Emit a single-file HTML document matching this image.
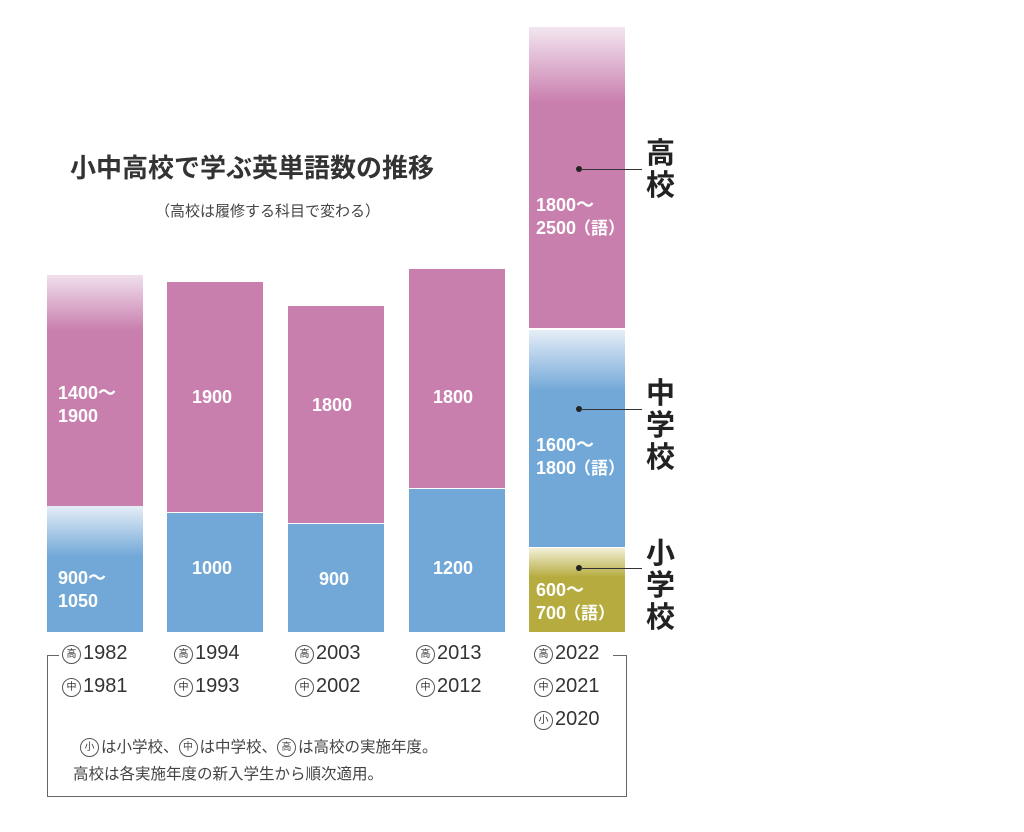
<!DOCTYPE html>
<html><head><meta charset="utf-8"><style>
body{margin:0;width:1024px;height:832px;background:#fff;position:relative;overflow:hidden;font-family:"Liberation Sans","Noto Sans CJK JP",sans-serif;color:#333}
.a{position:absolute}
.bar{position:absolute;width:96px}
.v{position:absolute;color:#fff;font-weight:bold;font-size:18px;line-height:23px;white-space:nowrap}
.y{position:absolute;font-size:20px;white-space:nowrap;color:#333}
.c{display:inline-block;width:17px;height:17px;border:1px solid #555;border-radius:50%;font-size:10px;line-height:17px;text-align:center;vertical-align:2px;margin-right:2px}
.lab{position:absolute;font-size:29px;font-weight:bold;line-height:32px;color:#222;left:646px;width:32px}
.dot{position:absolute;width:6px;height:6px;border-radius:50%;background:#222}
.ln{position:absolute;height:1px;background:#333}
.p{font-size:17px;margin-left:-2px}
</style></head><body>
<div class="a" style="left:70px;top:148px;font-size:26px;font-weight:bold;color:#333">小中高校で学ぶ英単語数の推移</div>
<div class="a" style="left:155px;top:200px;font-size:15px;color:#444">（高校は履修する科目で変わる）</div>

<div class="bar" style="left:47px;top:275px;height:231px;background:linear-gradient(#f0e0ec,#c97fae 24%,#c97fae)"></div>
<div class="bar" style="left:47px;top:506px;height:126px;background:linear-gradient(#e6eef7,#72a8d8 40%,#72a8d8)"></div>
<div class="bar" style="left:167px;top:282px;height:230px;background:#c97fae"></div>
<div class="bar" style="left:167px;top:513px;height:119px;background:#72a8d8"></div>
<div class="bar" style="left:288px;top:306px;height:217px;background:#c97fae"></div>
<div class="bar" style="left:288px;top:524px;height:108px;background:#72a8d8"></div>
<div class="bar" style="left:409px;top:269px;height:219px;background:#c97fae"></div>
<div class="bar" style="left:409px;top:489px;height:143px;background:#72a8d8"></div>
<div class="bar" style="left:529px;top:27px;height:301px;background:linear-gradient(#f3e6f0,#c97fae 25%,#c97fae)"></div>
<div class="bar" style="left:529px;top:330px;height:217px;background:linear-gradient(#e6eef7,#72a8d8 28%,#72a8d8)"></div>
<div class="bar" style="left:529px;top:548px;height:84px;background:linear-gradient(#f3f0d8,#b5ab3e 35%,#b5ab3e)"></div>

<div class="v" style="left:58px;top:382px">1400～<br>1900</div>
<div class="v" style="left:58px;top:567px">900～<br>1050</div>
<div class="v" style="left:192px;top:386px">1900</div>
<div class="v" style="left:192px;top:557px">1000</div>
<div class="v" style="left:312px;top:394px">1800</div>
<div class="v" style="left:319px;top:568px">900</div>
<div class="v" style="left:433px;top:386px">1800</div>
<div class="v" style="left:433px;top:557px">1200</div>
<div class="v" style="left:536px;top:194px">1800～<br>2500<span class="p">（語）</span></div>
<div class="v" style="left:536px;top:434px">1600～<br>1800<span class="p">（語）</span></div>
<div class="v" style="left:536px;top:579px">600～<br>700<span class="p">（語）</span></div>

<div class="dot" style="left:576px;top:166px"></div><div class="ln" style="left:580px;top:169px;width:62px"></div>
<div class="dot" style="left:576px;top:406px"></div><div class="ln" style="left:580px;top:409px;width:62px"></div>
<div class="dot" style="left:576px;top:565px"></div><div class="ln" style="left:580px;top:568px;width:62px"></div>
<div class="lab" style="top:138px">高<br>校</div>
<div class="lab" style="top:378px">中<br>学<br>校</div>
<div class="lab" style="top:538px">小<br>学<br>校</div>

<div class="a" style="left:47px;top:655px;width:578px;height:141px;border:1px solid #666;border-top:none"></div>
<div class="a" style="left:47px;top:655px;width:12px;height:1px;background:#666"></div>
<div class="a" style="left:613px;top:655px;width:13px;height:1px;background:#666"></div>

<div class="y" style="left:62px;top:642px"><span class="c">高</span>1982</div>
<div class="y" style="left:62px;top:675px"><span class="c">中</span>1981</div>
<div class="y" style="left:174px;top:642px"><span class="c">高</span>1994</div>
<div class="y" style="left:174px;top:675px"><span class="c">中</span>1993</div>
<div class="y" style="left:295px;top:642px"><span class="c">高</span>2003</div>
<div class="y" style="left:295px;top:675px"><span class="c">中</span>2002</div>
<div class="y" style="left:416px;top:642px"><span class="c">高</span>2013</div>
<div class="y" style="left:416px;top:675px"><span class="c">中</span>2012</div>
<div class="y" style="left:534px;top:642px;background:#fff;padding-right:3px"><span class="c">高</span>2022</div>
<div class="y" style="left:534px;top:675px"><span class="c">中</span>2021</div>
<div class="y" style="left:534px;top:708px"><span class="c">小</span>2020</div>
<div class="a" style="left:80px;top:735px;font-size:15.5px;color:#444"><span class="c">小</span>は小学校、<span class="c">中</span>は中学校、<span class="c">高</span>は高校の実施年度。</div>
<div class="a" style="left:73px;top:762px;font-size:15.5px;color:#444">高校は各実施年度の新入学生から順次適用。</div>
</body></html>
